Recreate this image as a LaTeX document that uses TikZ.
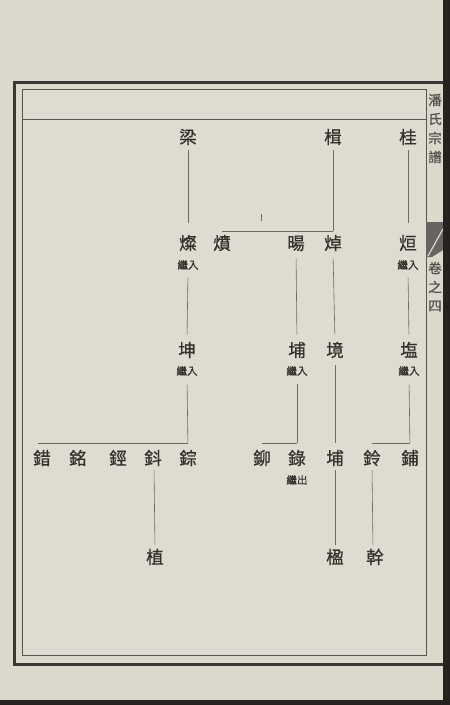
\documentclass[tikz,border=0pt]{standalone}
\usepackage{fontspec}
\newfontfamily\cjk{Noto Sans CJK TC}[FakeBold=0.7]
\definecolor{paper}{HTML}{DDD8CC}
\definecolor{paperin}{HTML}{E0DBD0}
\definecolor{ink}{HTML}{34302C}
\definecolor{linecol}{HTML}{6E6961}
\definecolor{framecol}{HTML}{3B3733}
\definecolor{edgecol}{HTML}{26231F}
\begin{document}
\begin{tikzpicture}[x=1pt,y=-1pt,
  person/.style={font=\cjk\fontsize{17.5}{17.5}\selectfont, text=ink, inner sep=0pt, text height=15.4pt, text depth=2.1pt},
  note/.style={font=\cjk\fontsize{10.5}{10.5}\selectfont, text=ink, inner sep=0pt, text height=9.2pt, text depth=1.3pt},
  margintext/.style={font=\cjk\fontsize{13.5}{13.5}\selectfont, text=ink!85, inner sep=0pt},
  link/.style={draw=linecol, line width=0.6pt, shorten <=6pt, shorten >=7pt},
  bar/.style={draw=linecol, line width=0.6pt},
  thick frame/.style={draw=framecol, line width=3pt},
  thin frame/.style={draw=framecol!85, line width=0.8pt}]
\useasboundingbox (0,0) rectangle (450,705);
% paper
\fill[paper] (0,0) rectangle (450,705);
\fill[paperin] (22,89) rectangle (426,655);
% frames
\draw[thick frame] (14,82) -- (443,82);
\draw[thick frame] (14,80.5) -- (14,666);
\draw[thick frame] (12.5,664) -- (443,664);
\draw[thin frame] (22,89) -- (426,89) -- (426,655) -- (22,655) -- cycle;
\draw[thin frame, line width=0.6pt] (22,119) -- (426,119);
% fish tail mark
\fill[ink!75] (426,222) -- (443,222) -- (443,250) -- (432,257) -- (426,257) -- cycle;
\draw[paperin, line width=1.2pt] (428,256) -- (443,229);
% margin text
\node[margintext] (m1) at (435,100) {潘};
\node[margintext] (m2) at (435,119) {氏};
\node[margintext] (m3) at (435,138) {宗};
\node[margintext] (m4) at (435,157) {譜};
\node[margintext] (m5) at (435,268) {卷};
\node[margintext] (m6) at (435,287) {之};
\node[margintext] (m7) at (435,306) {四};
% row 1
\node[person] (liang) at (188,137) {梁};
\node[person] (ji) at (333,137) {楫};
\node[person] (gui) at (408,137) {桂};
% row 2
\node[person] (can) at (188,243) {燦};
\node[note] (canN) at (188,265) {繼入};
\node[person] (fen) at (222,243) {燌};
\node[person] (yang) at (296,243) {暘};
\node[person] (zhuo) at (333,243) {焯};
\node[person] (xuan) at (408,243) {烜};
\node[note] (xuanN) at (408,265) {繼入};
% row 3
\node[person] (kun) at (187,350) {坤};
\node[note] (kunN) at (187,371) {繼入};
\node[person] (pua) at (297,350) {埔};
\node[note] (puaN) at (297,371) {繼入};
\node[person] (jing) at (335,350) {境};
\node[person] (yan) at (409,350) {塩};
\node[note] (yanN) at (409,371) {繼入};
% row 4
\node[person] (cuo) at (42,458) {錯};
\node[person] (ming) at (78,458) {銘};
\node[person] (xing) at (118,458) {鋞};
\node[person] (dou) at (153,458) {鈄};
\node[person] (zong) at (188,458) {錝};
\node[person] (mao) at (262,458) {鉚};
\node[person] (lu) at (297,458) {錄};
\node[note] (luN) at (297,480) {繼出};
\node[person] (pub) at (335,458) {埔};
\node[person] (ling) at (372,458) {鈴};
\node[person] (pu) at (410,458) {鋪};
% row 5
\node[person] (zhi) at (155,557) {植};
\node[person] (ying) at (335,557) {楹};
\node[person] (gan) at (375,557) {幹};
% tick mark
\coordinate (t1) at (261,214);
\coordinate (t2) at (261,221);
\draw[bar, line width=0.5pt] (t1) -- (t2);
% links row1 -> row2
\draw[link, shorten <=4.5pt, shorten >=11.5pt] (liang.south) -- (can.north);
\draw[link, shorten <=4.5pt, shorten >=3.25pt] (ji.south) -- (zhuo.north);
\draw[link, shorten <=4.5pt, shorten >=11.5pt] (gui.south) -- (xuan.north);
\draw[bar] ([yshift=3.25pt]fen.north) -- ([yshift=3.25pt]zhuo.north);
% row2 -> row3
\draw[link, shorten <=7pt, shorten >=6.5pt] (canN.south) -- (kun.north);
\draw[link, shorten <=6.5pt, shorten >=6.5pt] (yang.south) -- (pua.north);
\draw[link, shorten <=6.5pt, shorten >=6.5pt] (zhuo.south) -- (jing.north);
\draw[link, shorten <=7pt, shorten >=6.5pt] (xuanN.south) -- (yan.north);
% row3 -> row4
\draw[link, shorten <=8pt, shorten >=6.25pt] (kunN.south) -- (zong.north);
\draw[link, shorten <=8pt, shorten >=6.25pt] (puaN.south) -- (lu.north);
\draw[link, shorten <=6.5pt, shorten >=6.25pt] (jing.south) -- (pub.north);
\draw[link, shorten <=8pt, shorten >=6.25pt] (yanN.south) -- (pu.north);
\draw[bar] ([xshift=-4pt,yshift=6.25pt]cuo.north) -- ([yshift=6.25pt]zong.north);
\draw[bar] ([yshift=6.25pt]mao.north) -- ([yshift=6.25pt]lu.north);
\draw[bar] ([yshift=6.25pt]ling.north) -- ([yshift=6.25pt]pu.north);
% row4 -> row5
\draw[link, shorten <=3.5pt, shorten >=3.5pt] ([xshift=1pt]dou.south) -- (zhi.north);
\draw[link, shorten <=3.5pt, shorten >=3.5pt] (pub.south) -- (ying.north);
\draw[link, shorten <=3.5pt, shorten >=3.5pt] (ling.south) -- ([xshift=-2pt]gan.north);
% page edges
\fill[edgecol] (443,0) rectangle (450,705);
\fill[edgecol] (0,700) rectangle (450,705);
\end{tikzpicture}
\end{document}
